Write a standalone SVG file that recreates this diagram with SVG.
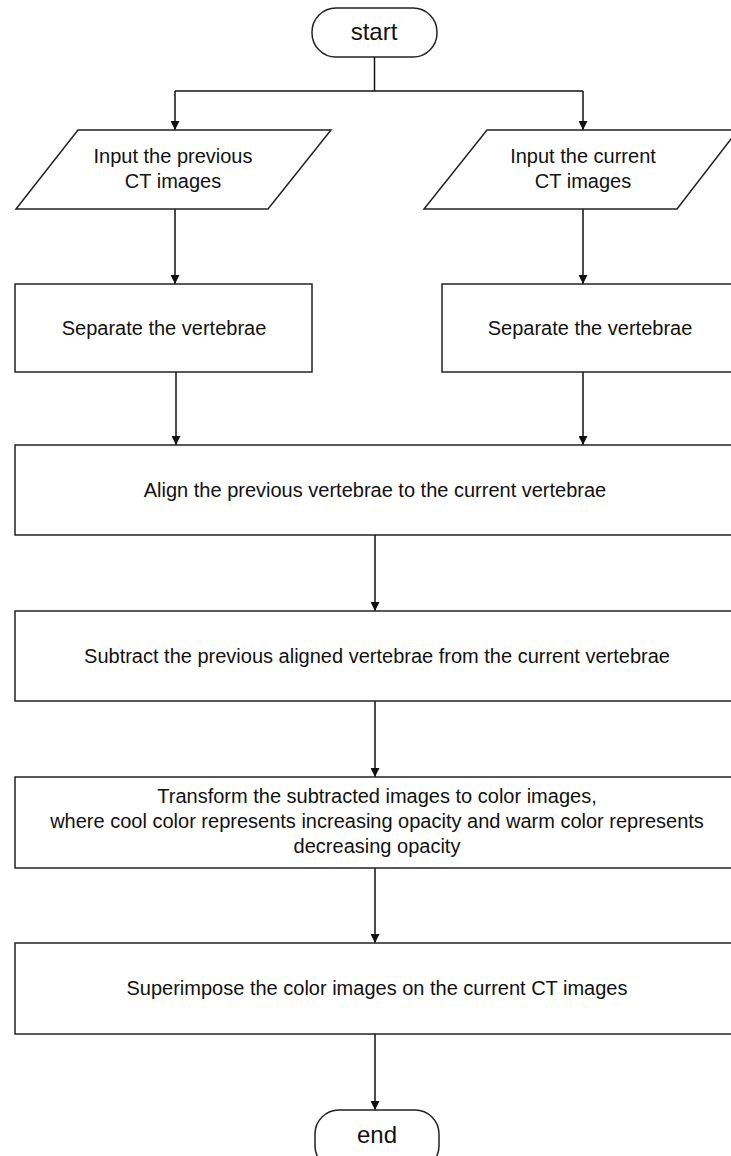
<svg xmlns="http://www.w3.org/2000/svg" width="731" height="1156" viewBox="0 0 731 1156">
<defs>
<marker id="arr" viewBox="0 0 10 10" refX="10" refY="5" markerWidth="9" markerHeight="9" markerUnits="userSpaceOnUse" orient="auto">
<path d="M0,0 L10,5 L0,10 z" fill="#111"/>
</marker>
<style>
.shape{fill:#fff;stroke:#222;stroke-width:1.5}
.t{font-family:"Liberation Sans",Arial,sans-serif;font-size:20px;fill:#111;text-anchor:middle}
.term{font-family:"Liberation Sans",Arial,sans-serif;font-size:24px;fill:#111;text-anchor:middle}
.c{stroke:#111;stroke-width:1.5;fill:none}
.a{marker-end:url(#arr)}
</style>
</defs>
<rect width="731" height="1156" fill="#fff"/>
<g id="connectors">
<line class="c" x1="374.5" y1="57" x2="374.5" y2="91"/>
<line class="c" x1="175" y1="91" x2="583" y2="91"/>
<line class="c a" x1="175" y1="91" x2="175" y2="130"/>
<line class="c a" x1="583" y1="91" x2="583" y2="130"/>
<line class="c a" x1="175" y1="209" x2="175" y2="284"/>
<line class="c a" x1="583" y1="209" x2="583" y2="284"/>
<line class="c a" x1="176" y1="372" x2="176" y2="445"/>
<line class="c a" x1="583" y1="372" x2="583" y2="445"/>
<line class="c a" x1="375" y1="535" x2="375" y2="611"/>
<line class="c a" x1="375" y1="701" x2="375" y2="777"/>
<line class="c a" x1="375" y1="868" x2="375" y2="943"/>
<line class="c a" x1="375" y1="1034" x2="375" y2="1110"/>
</g>
<g id="start">
<rect class="shape" x="312" y="8" width="125" height="49" rx="24" ry="24"/>
<text class="term" x="374" y="40">start</text>
</g>
<g id="input-previous">
<polygon class="shape" points="78,130 331,130 268,209 16,209"/>
<text class="t" x="173" y="163">Input the previous</text>
<text class="t" x="173" y="188">CT images</text>
</g>
<g id="input-current">
<polygon class="shape" points="487,130 738,130 677,209 424,209"/>
<text class="t" x="583" y="163">Input the current</text>
<text class="t" x="583" y="188">CT images</text>
</g>
<g id="separate-left">
<rect class="shape" x="15" y="284" width="297" height="88"/>
<text class="t" x="164" y="335">Separate the vertebrae</text>
</g>
<g id="separate-right">
<rect class="shape" x="442" y="284" width="300" height="88"/>
<text class="t" x="590" y="335">Separate the vertebrae</text>
</g>
<g id="align">
<rect class="shape" x="15" y="445" width="727" height="90"/>
<text class="t" x="375" y="497">Align the previous vertebrae to the current vertebrae</text>
</g>
<g id="subtract">
<rect class="shape" x="15" y="611" width="727" height="90"/>
<text class="t" x="377" y="663">Subtract the previous aligned vertebrae from the current vertebrae</text>
</g>
<g id="transform">
<rect class="shape" x="15" y="777" width="727" height="91"/>
<text class="t" x="377" y="803">Transform the subtracted images to color images,</text>
<text class="t" x="377" y="828">where cool color represents increasing opacity and warm color represents</text>
<text class="t" x="377" y="853">decreasing opacity</text>
</g>
<g id="superimpose">
<rect class="shape" x="15" y="943" width="727" height="91"/>
<text class="t" x="377" y="995">Superimpose the color images on the current CT images</text>
</g>
<g id="end">
<rect class="shape" x="315" y="1110" width="124" height="60" rx="24" ry="24"/>
<text class="term" x="377" y="1143">end</text>
</g>
</svg>
